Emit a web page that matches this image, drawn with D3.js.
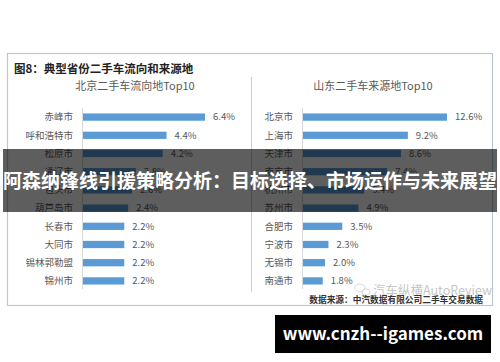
<!DOCTYPE html>
<html>
<head>
<meta charset="utf-8">
<script src="https://cdn.jsdelivr.net/npm/d3@7"></script>
<style>
  body { margin: 0; background: #fff; }
  text { font-family: "Noto Sans CJK SC", "Noto Sans", sans-serif; }
</style>
</head>
<body>
<div class="chart"></div>
<script>
// data (row 5 of each panel is hidden under the banner, estimated)
var bjCities = ["赤峰市", "呼和浩特市", "松原市", "通辽市", "包头市", "葫芦岛市", "长春市", "大同市", "锡林郭勒盟", "锦州市"];
var bjValues = [6.4, 4.4, 4.2, 2.8, 2.6, 2.4, 2.2, 2.2, 2.2, 2.2];

var sdCities = ["北京市", "上海市", "天津市", "南京市", "杭州市", "苏州市", "合肥市", "宁波市", "无锡市", "南通市"];
var sdValues = [12.6, 9.2, 8.6, 7.4, 5.4, 4.9, 3.5, 2.3, 2.0, 1.8];

var svgWidth = 500;
var svgHeight = 362;

var svg = d3.select(".chart")
    .append("svg")
    .attr("width", svgWidth)
    .attr("height", svgHeight);

// outer frame
svg.append("rect")
    .attr("x", 7.5).attr("y", 53.5)
    .attr("width", 485).attr("height", 252)
    .attr("fill", "#fff")
    .attr("stroke", "#b9c9d2")
    .attr("stroke-width", 1.2);

svg.append("line")
    .attr("x1", 251.5).attr("x2", 251.5)
    .attr("y1", 77).attr("y2", 292)
    .attr("stroke", "#c3d0d8");

svg.append("text")
    .attr("x", 14).attr("y", 73)
    .attr("font-size", "11.5px")
    .attr("font-weight", "bold")
    .attr("fill", "#222")
    .text("图8：典型省份二手车流向和来源地");

// one panel = one horizontal bar chart
function drawPanel(title, cities, values, axisX, maxX, titleX) {

    var yScale = d3.scaleBand()
        .domain(cities)
        .range([108, 290])
        .paddingInner(0.6)
        .paddingOuter(0.3);

    var xScale = d3.scaleLinear()
        .domain([0, d3.max(values)])
        .range([axisX, maxX]);

    var g = svg.append("g");

    g.append("text")
        .attr("x", titleX).attr("y", 90)
        .attr("text-anchor", "middle")
        .attr("font-size", "11px")
        .attr("fill", "#595959")
        .text(title);

    g.append("line")
        .attr("x1", axisX + 0.5).attr("x2", axisX + 0.5)
        .attr("y1", 108).attr("y2", 289)
        .attr("stroke", "#d9d9d9");

    g.selectAll(".bar")
        .data(values)
        .enter()
        .append("rect")
        .attr("class", "bar")
        .attr("x", axisX + 1)
        .attr("y", function(d, i) { return yScale(cities[i]); })
        .attr("width", function(d) { return xScale(d) - axisX - 1; })
        .attr("height", yScale.bandwidth())
        .attr("fill", "#5b9bd5");

    g.selectAll(".val")
        .data(values)
        .enter()
        .append("text")
        .attr("class", "val")
        .attr("x", function(d) { return xScale(d) + 8; })
        .attr("y", function(d, i) { return yScale(cities[i]) + yScale.bandwidth() / 2; })
        .attr("dy", "0.35em")
        .attr("font-size", "9.5px")
        .attr("fill", "#595959")
        .text(function(d) { return d.toFixed(1) + "%"; });

    g.selectAll(".cat")
        .data(cities)
        .enter()
        .append("text")
        .attr("class", "cat")
        .attr("x", axisX - 9)
        .attr("y", function(d) { return yScale(d) + yScale.bandwidth() / 2; })
        .attr("dy", "0.35em")
        .attr("text-anchor", "end")
        .attr("font-size", "9.5px")
        .attr("fill", "#595959")
        .text(function(d) { return d; });
}

drawPanel("北京二手车流向地Top10", bjCities, bjValues, 82, 205, 135);
drawPanel("山东二手车来源地Top10", sdCities, sdValues, 302, 447, 373);

// watermark + source
var wm = svg.append("g").attr("opacity", 0.55);
wm.append("ellipse").attr("cx", 360).attr("cy", 288).attr("rx", 5).attr("ry", 4)
    .attr("fill", "none").attr("stroke", "#aaa").attr("stroke-width", 0.8);
wm.append("ellipse").attr("cx", 366).attr("cy", 292).attr("rx", 4).attr("ry", 3.2)
    .attr("fill", "none").attr("stroke", "#aaa").attr("stroke-width", 0.8);
wm.append("text")
    .attr("x", 373).attr("y", 295)
    .attr("font-size", "12.5px")
    .attr("fill", "#999")
    .text("汽车纵横AutoReview");

svg.append("text")
    .attr("x", 483).attr("y", 303)
    .attr("text-anchor", "end")
    .attr("font-size", "8.7px")
    .attr("font-weight", "bold")
    .attr("fill", "#333")
    .text("数据来源：中汽数据有限公司二手车交易数据");

// banner overlay
svg.append("rect")
    .attr("x", 3).attr("y", 149)
    .attr("width", 494).attr("height", 63)
    .attr("fill", "rgba(0,0,0,0.63)");

svg.append("text")
    .attr("x", 250).attr("y", 181)
    .attr("dy", "0.35em")
    .attr("text-anchor", "middle")
    .attr("font-size", "19px")
    .attr("font-weight", "bold")
    .attr("fill", "#fff")
    .text("阿森纳锋线引援策略分析：目标选择、市场运作与未来展望");

// site label
svg.append("rect")
    .attr("x", 275).attr("y", 315)
    .attr("width", 216).attr("height", 38)
    .attr("fill", "#000");

svg.append("text")
    .attr("x", 383).attr("y", 334)
    .attr("dy", "0.35em")
    .attr("text-anchor", "middle")
    .attr("font-size", "17px")
    .attr("font-weight", "bold")
    .attr("font-family", "'Open Sans', 'DejaVu Sans', sans-serif")
    .attr("fill", "#fff")
    .text("www.cnzh--igames.com");
</script>
</body>
</html>
